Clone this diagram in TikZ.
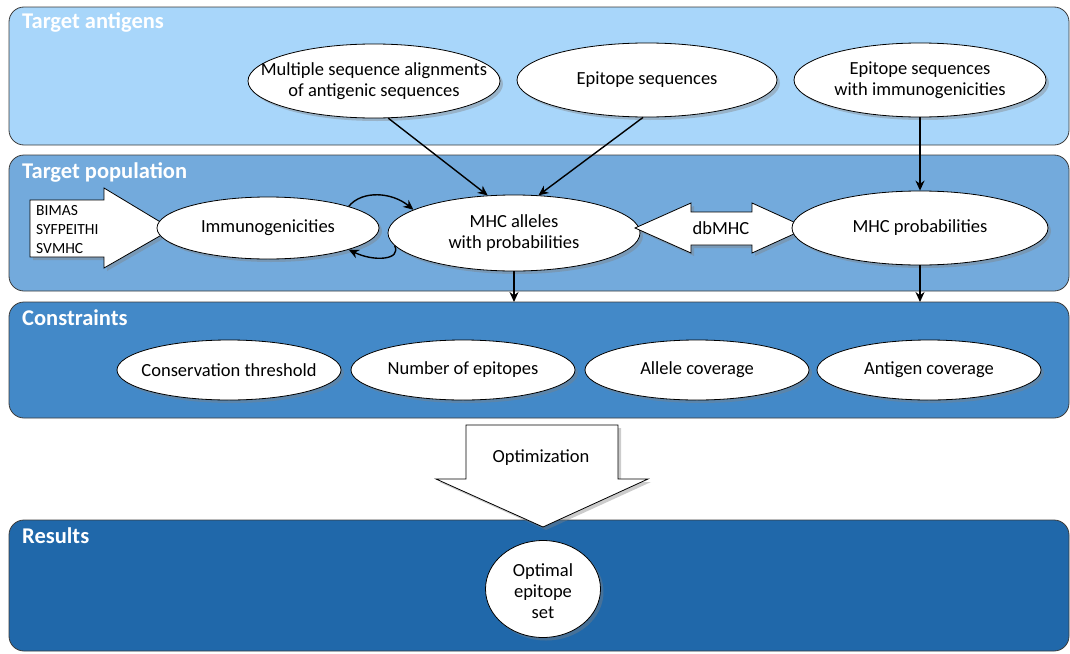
\documentclass[tikz,border=0pt]{standalone}
\usepackage{fontspec}
\setmainfont{Carlito}
\usetikzlibrary{shadows,arrows.meta,shapes.geometric}
\definecolor{bandA}{RGB}{168,214,250}
\definecolor{bandB}{RGB}{115,170,220}
\definecolor{bandC}{RGB}{67,137,200}
\definecolor{bandD}{RGB}{32,104,170}
\definecolor{bord}{RGB}{60,60,60}
\tikzset{
  band/.style={draw=bord, line width=0.8pt, rounded corners=15pt},
  bandtitle/.style={anchor=west, text=white, font=\bfseries\fontsize{22.5}{26}\selectfont, inner sep=0pt},
  ell/.style={ellipse, draw=black, line width=0.8pt, fill=white, inner sep=0pt,
    drop shadow={shadow xshift=3pt, shadow yshift=-3pt, opacity=0.4}},
  etext/.style={align=center, font=\fontsize{18.5}{21}\selectfont, inner sep=0pt},
  blockarrow/.style={draw=black, line width=0.8pt, fill=white, line join=miter,
    drop shadow={shadow xshift=3pt, shadow yshift=-3pt, opacity=0.4}},
  conn/.style={line width=1.4pt, -{Stealth[length=10pt,width=9pt]}},
}
\begin{document}
\begin{tikzpicture}[x=1pt,y=-1pt]
\useasboundingbox (0,0) rectangle (1070,653);
% bands
\draw[band, fill=bandA] (9,7) rectangle (1069,145);
\draw[band, fill=bandB] (9,155) rectangle (1069,291);
\draw[band, fill=bandC] (9,302) rectangle (1069,418);
\draw[band, fill=bandD] (9,520) rectangle (1069,651);
\node[bandtitle] (tA) at (22,22) {Target antigens};
\node[bandtitle] (tB) at (22,172) {Target population};
\node[bandtitle] (tC) at (22,318) {Constraints};
\node[bandtitle] (tD) at (22,536) {Results};
% target antigens ellipses
\node[ell, minimum width=252pt, minimum height=74pt] (msa) at (374,81) {};
\node[etext] at (msa) {Multiple sequence alignments\\of antigenic sequences};
\node[ell, minimum width=260pt, minimum height=74pt] (epi) at (647,80) {};
\node[etext] at (epi) {Epitope sequences};
\node[ell, minimum width=252pt, minimum height=74pt] (eim) at (920,80) {};
\node[etext] at (eim) {Epitope sequences\\with immunogenicities};
% target population
\path[blockarrow] (30,200) -- (104,200) -- (104,188) -- (172,229) -- (104,268) -- (104,257) -- (30,257) -- cycle;
\node[align=left, anchor=west, font=\fontsize{15.5}{19}\selectfont, inner sep=0pt] (tools) at (36,230) {BIMAS\\SYFPEITHI\\SVMHC};
\node[ell, minimum width=222pt, minimum height=62pt] (imm) at (268,228) {};
\node[etext] at (imm) {Immunogenicities};
\node[ell, minimum width=252pt, minimum height=76pt] (mhc) at (514,233) {};
\node[etext] at (mhc) {MHC alleles\\with probabilities};
\path[blockarrow] (635,228) -- (691,203) -- (691,212) -- (752,212) -- (752,203) -- (807,228) -- (752,253) -- (752,245) -- (691,245) -- (691,253) -- cycle;
\node[etext] (db) at (721,228) {dbMHC};
\node[ell, minimum width=256pt, minimum height=74pt] (mhcp) at (920,228) {};
\node[etext] at (mhcp) {MHC probabilities};
% constraints
\node[ell, minimum width=224pt, minimum height=60pt] (cons) at (229,370) {};
\node[etext] at (cons) {Conservation threshold};
\node[ell, minimum width=224pt, minimum height=60pt] (num) at (463,370) {};
\node[etext] at (num) {Number of epitopes};
\node[ell, minimum width=224pt, minimum height=60pt] (allc) at (697,370) {};
\node[etext] at (allc) {Allele coverage};
\node[ell, minimum width=224pt, minimum height=60pt] (antc) at (929,370) {};
\node[etext] at (antc) {Antigen coverage};
% optimization arrow
\path[blockarrow] (466,425) -- (618,425) -- (618,479) -- (648,479) -- (543,527) -- (436,479) -- (466,479) -- cycle;
\node[etext] (opt) at (541,458) {Optimization};
% results
\node[ell, minimum width=115pt, minimum height=97pt] (res) at (543,589) {};
\node[etext] at (res.center) [yshift=-2pt] {Optimal\\epitope\\set};
% connectors
\coordinate (cA) at (514,302);
\coordinate (cB) at (920,302);
\draw[conn] (msa.-69) -- (mhc.125);
\draw[conn] (epi.-96) -- (mhc.57);
\draw[conn] (eim.south) -- (mhcp.north);
\draw[conn] (mhc.south) -- (cA);
\draw[conn] (mhcp.south) -- (cB);
\draw[conn] (imm.15) .. controls (362,190) and (392,192) .. (mhc.167);
\draw[conn] (mhc.-174) .. controls (402,260) and (374,262) .. (imm.-15);
\end{tikzpicture}
\end{document}
